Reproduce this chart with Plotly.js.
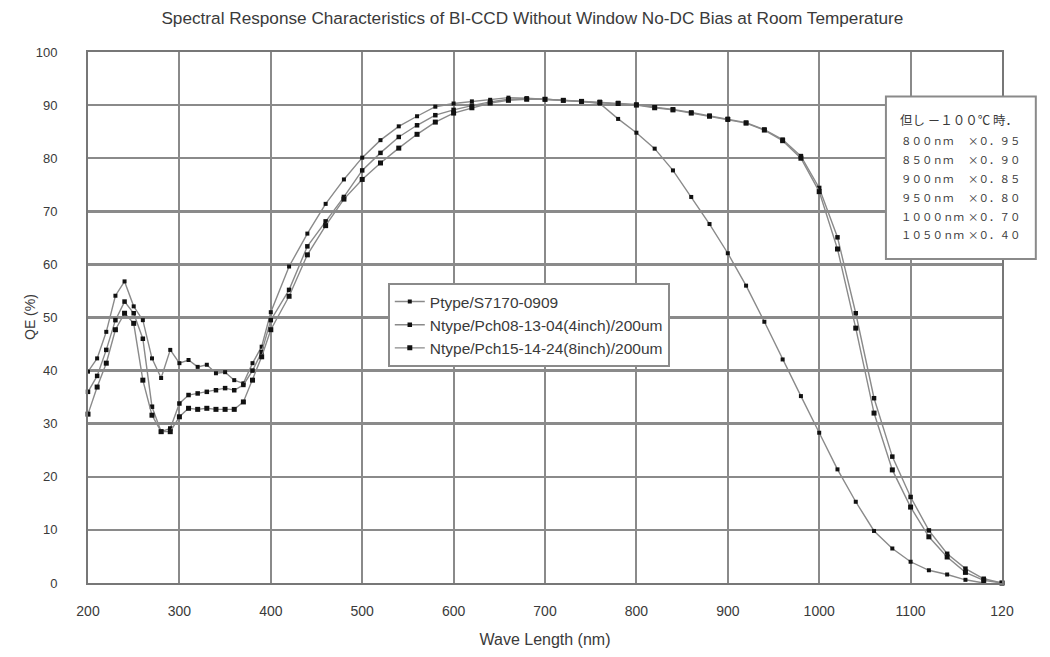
<!DOCTYPE html>
<html>
<head>
<meta charset="utf-8">
<script src="https://cdn.plot.ly/plotly-3.0.1.min.js"></script>
<style>
  html, body { margin: 0; padding: 0; background: #fff; }
  #chart { width: 1050px; height: 657px; }
</style>
</head>
<body>
<div id="chart"></div>
<script>
// Wavelength sampling (nm): 10 nm steps in the UV, 20 nm steps beyond 400 nm
const wavelengthN = [
  200, 210, 220, 230, 240, 250, 260, 270, 280, 290,
  300, 310, 320, 330, 340, 350, 360, 370, 380, 390,
  400, 420, 440, 460, 480, 500, 520, 540, 560, 580,
  600, 620, 640, 660, 680, 700, 720, 740, 760, 780,
  800, 820, 840, 860, 880, 900, 920, 940, 960, 980,
  1000, 1020, 1040, 1060, 1080, 1100, 1120, 1140, 1160, 1180, 1200
];
const wavelengthP = [
  200, 210, 220, 230, 240, 250, 260, 270, 280, 290,
  300, 310, 320, 330, 340, 350, 360, 370, 380, 390,
  400, 420, 440, 460, 480, 500, 520, 540, 560, 580,
  600, 620, 640, 660, 680, 700, 720, 740, 760, 780,
  800, 820, 840, 860, 880, 900, 920, 940, 960, 980,
  1000, 1020, 1040, 1060, 1080, 1100, 1120, 1140, 1160, 1180
];

// Quantum efficiency (%)
const qePtype = [
  39.8, 42.3, 47.3, 54.1, 56.8, 52.1, 49.5, 42.3, 38.6, 43.9,
  41.4, 42.0, 40.7, 41.1, 39.5, 39.7, 38.2, 37.6, 41.4, 44.5,
  51.0, 59.6, 65.8, 71.4, 76.0, 80.1, 83.4, 86.0, 87.9, 89.7,
  90.3, 90.7, 91.0, 91.4, 91.3, 91.1, 90.9, 90.7, 90.3, 87.4,
  84.8, 81.8, 77.7, 72.7, 67.6, 62.1, 56.0, 49.2, 42.1, 35.2,
  28.3, 21.4, 15.3, 9.8, 6.5, 4.0, 2.4, 1.6, 0.6, 0.0
];
const qeN4inch = [
  36.0, 39.0, 43.9, 49.5, 53.0, 50.8, 46.0, 33.2, 28.5, 29.1,
  33.8, 35.4, 35.7, 36.0, 36.3, 36.7, 36.3, 37.3, 40.0, 43.5,
  49.5, 55.2, 63.4, 68.1, 72.7, 77.7, 81.0, 84.0, 86.2, 88.1,
  89.1, 89.9, 90.6, 91.1, 91.2, 91.1, 90.9, 90.7, 90.6, 90.4,
  90.1, 89.6, 89.2, 88.6, 88.0, 87.4, 86.7, 85.4, 83.5, 80.4,
  74.4, 65.1, 50.8, 34.8, 23.8, 16.2, 9.9, 5.5, 2.7, 0.8, 0.0
];
const qeN8inch = [
  31.8, 36.9, 41.4, 47.7, 50.8, 48.9, 38.2, 31.6, 28.5, 28.5,
  31.3, 32.9, 32.7, 32.9, 32.7, 32.7, 32.7, 34.1, 38.2, 42.6,
  47.7, 54.0, 61.8, 67.3, 72.3, 76.0, 79.1, 81.9, 84.5, 86.8,
  88.5, 89.5, 90.4, 90.9, 91.1, 91.1, 90.9, 90.7, 90.5, 90.3,
  90.0, 89.5, 89.1, 88.5, 87.9, 87.3, 86.6, 85.3, 83.3, 80.0,
  73.7, 62.9, 48.0, 32.0, 21.3, 14.3, 8.7, 4.9, 2.0, 0.5, 0.0
];

const seriesNames = [
  'Ptype/S7170-0909',
  'Ntype/Pch08-13-04(4inch)/200um',
  'Ntype/Pch15-14-24(8inch)/200um'
];

// Axis ticks
const xTickVals = [200, 300, 400, 500, 600, 700, 800, 900, 1000, 1100, 1200];
const xTickText = ['200', '300', '400', '500', '600', '700', '800', '900', '1000', '1100', '120'];

// Correction factors at -100 °C
const noteHeader = '但し －１００℃ 時．';
const noteWavelengths = ['８００ｎｍ', '８５０ｎｍ', '９００ｎｍ', '９５０ｎｍ', '１０００ｎｍ', '１０５０ｎｍ'];
const noteFactors = ['×０．９５', '×０．９０', '×０．８５', '×０．８０', '×０．７０', '×０．４０'];

const FONT = '"Liberation Sans", Arial, sans-serif';
const CJK = '"Noto Sans CJK JP", "Noto Sans CJK SC", sans-serif';
const LINE = '#8a8a8a';
const TEXT = '#3a3a3a';

function curve(x, y, name, size, group) {
  return {
    type: 'scatter', mode: 'lines+markers', x: x, y: y, name: name,
    legendgroup: group, cliponaxis: false,
    line: { color: LINE, width: 1.4 },
    marker: { symbol: 'square', size: size, color: '#111' }
  };
}

const traces = [
  curve(wavelengthP, qePtype, seriesNames[0], 4, 'p'),
  curve(wavelengthN, qeN4inch, seriesNames[1], 4.5, 'n4'),
  curve(wavelengthN, qeN8inch, seriesNames[2], 5, 'n8')
];

// Right-hand note box (paper coordinates)
const noteX0 = 0.873, noteX1 = 1.037, noteY0 = 0.610, noteY1 = 0.916;
const annotations = [
  {
    // y-axis title, placed right next to the tick labels
    xref: 'paper', yref: 'paper', x: -0.064, y: 0.5, xanchor: 'center', yanchor: 'middle',
    text: 'QE (%)', textangle: -90, showarrow: false,
    font: { family: FONT, size: 14, color: TEXT }
  },
  {
    xref: 'paper', yref: 'paper', x: 0.886, y: 0.872, xanchor: 'left', yanchor: 'middle',
    text: noteHeader, showarrow: false, font: { family: CJK, size: 12.5, color: TEXT }
  }
];
noteWavelengths.forEach(function (w, i) {
  const yy = 0.833 - i * 0.0355;
  annotations.push({
    xref: 'paper', yref: 'paper', x: 0.887, y: yy, xanchor: 'left', yanchor: 'middle',
    text: w, showarrow: false, font: { family: CJK, size: 10.5, color: TEXT }
  });
  annotations.push({
    xref: 'paper', yref: 'paper', x: 0.961, y: yy, xanchor: 'left', yanchor: 'middle',
    text: noteFactors[i], showarrow: false, font: { family: CJK, size: 10.5, color: TEXT }
  });
});

const layout = {
  width: 1050, height: 657,
  margin: { l: 88, r: 48, t: 52, b: 74 },
  paper_bgcolor: '#fff', plot_bgcolor: '#fff',
  showlegend: true,
  title: {
    text: 'Spectral Response Characteristics of BI-CCD Without Window No-DC Bias at Room Temperature',
    xref: 'container', yref: 'container', x: 0.507, y: 0.972, xanchor: 'center', yanchor: 'middle',
    font: { family: FONT, size: 17.2, color: TEXT }
  },
  xaxis: {
    range: [200, 1200], tickvals: xTickVals, ticktext: xTickText,
    showgrid: true, gridcolor: LINE, gridwidth: 2,
    showline: true, linecolor: '#777', linewidth: 2, mirror: true,
    zeroline: false, ticks: '', ticklabelstandoff: 14,
    tickfont: { family: FONT, size: 14, color: TEXT },
    title: { text: 'Wave Length (nm)', font: { family: FONT, size: 16, color: TEXT }, standoff: 16 }
  },
  yaxis: {
    range: [0, 100], dtick: 10, tick0: 0,
    showgrid: true, gridcolor: LINE, gridwidth: 2.5,
    showline: true, linecolor: '#777', linewidth: 2, mirror: true,
    zeroline: false, ticks: '', ticklabelstandoff: 26,
    tickfont: { family: FONT, size: 13, color: TEXT }
  },
  legend: {
    x: 0.328, y: 0.565, xanchor: 'left', yanchor: 'top',
    bgcolor: '#fff', bordercolor: '#8a8a8a', borderwidth: 2,
    font: { family: FONT, size: 15.5, color: TEXT },
    traceorder: 'grouped', tracegroupgap: 0, itemwidth: 30
  },
  shapes: [{
    type: 'rect', xref: 'paper', yref: 'paper', layer: 'above',
    x0: noteX0, x1: noteX1, y0: noteY0, y1: noteY1,
    line: { color: '#8a8a8a', width: 2 }, fillcolor: '#fff'
  }],
  annotations: annotations
};

Plotly.newPlot('chart', traces, layout, { displayModeBar: false, staticPlot: true });
</script>
</body>
</html>
